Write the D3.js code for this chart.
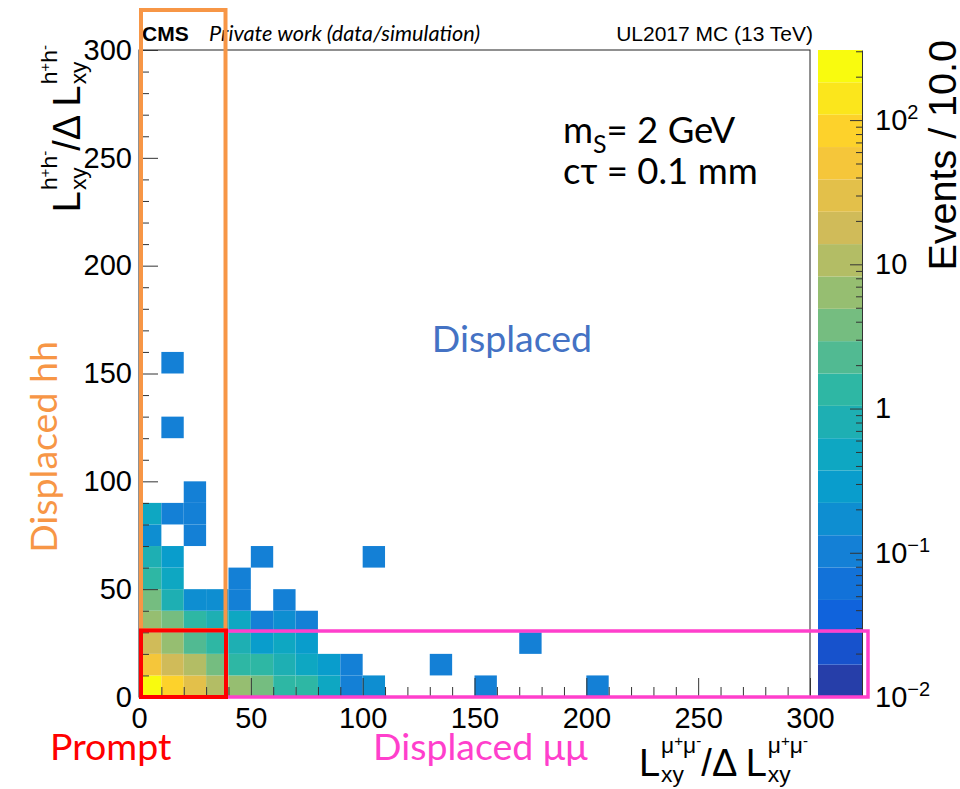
<!DOCTYPE html>
<html>
<head>
<meta charset="utf-8">
<script src="https://cdn.jsdelivr.net/npm/d3@7"></script>
<style>
  html, body { margin: 0; padding: 0; background: #fff; }
  svg { display: block; }
</style>
</head>
<body>
<svg id="chart" width="960" height="789"></svg>
<script>
// ---- 2D histogram: lower bin edges (bin width 10) and weighted event content ----
const binWidth = 10;
const binX = [
  0, 10, 20, 30, 40, 50, 60, 70, 80, 90, 100, 150, 200,
  0, 10, 20, 30, 40, 50, 60, 70, 80, 90, 130,
  0, 10, 20, 30, 40, 50, 60, 70, 170,
  0, 10, 20, 30, 40, 50, 60, 70,
  0, 10, 20, 30, 40, 60,
  0, 10, 40,
  0, 10, 50, 100,
  0, 20,
  0, 10, 20,
  20,
  10,
  10
];
const binY = [
  0, 0, 0, 0, 0, 0, 0, 0, 0, 0, 0, 0, 0,
  10, 10, 10, 10, 10, 10, 10, 10, 10, 10, 10,
  20, 20, 20, 20, 20, 20, 20, 20, 20,
  30, 30, 30, 30, 30, 30, 30, 30,
  40, 40, 40, 40, 40, 40,
  50, 50, 50,
  60, 60, 60, 60,
  70, 70,
  80, 80, 80,
  90,
  120,
  150
];
const binZ = [
  250, 85, 30, 10.5, 6.3, 3.8, 1.3, 1.3, 0.5, 0.1, 0.17, 0.1, 0.1,
  50, 18, 10.5, 3.8, 1.3, 1.3, 0.8, 0.5, 0.29, 0.1, 0.1,
  18, 6.3, 2.2, 1.3, 0.8, 0.29, 0.5, 0.29, 0.1,
  6.3, 3.8, 1.3, 0.8, 0.5, 0.1, 0.17, 0.1,
  3.8, 0.8, 0.17, 0.17, 0.1, 0.1,
  1.3, 0.5, 0.1,
  0.8, 0.29, 0.1, 0.1,
  0.17, 0.1,
  0.5, 0.1, 0.1,
  0.1,
  0.1,
  0.1
];

// ---- axis ticks ----
const xMajorTicks = [0, 50, 100, 150, 200, 250, 300];
const yMajorTicks = [0, 50, 100, 150, 200, 250, 300];
const zMajorTicks = [0.01, 0.1, 1, 10, 100];
const zTickBase = ["10", "10", "1", "10", "10"];
const zTickExp = ["\u22122", "\u22121", "", "", "2"];

// ---- "bird" colour palette stops ----
const birdStops = [0.0, 0.125, 0.25, 0.375, 0.5, 0.625, 0.75, 0.875, 1.0];
const birdR = [0.2082, 0.0592, 0.0780, 0.0232, 0.1802, 0.5301, 0.8186, 0.9956, 0.9764];
const birdG = [0.1664, 0.3599, 0.5041, 0.6419, 0.7178, 0.7492, 0.7328, 0.7862, 0.9832];
const birdB = [0.5293, 0.8684, 0.8385, 0.7914, 0.6425, 0.4662, 0.3499, 0.1968, 0.0539];

// ---- layout ----
const X0 = 139, X1 = 810, Y0 = 697, Y1 = 50;
const CB0 = 818, CB1 = 862;
const AXIS_FONT = "'Liberation Sans', Arial, Helvetica, sans-serif";
const LABEL_FONT = "Lato, 'Open Sans', sans-serif";

const svg = d3.select("#chart");
svg.append("rect").attr("width", 960).attr("height", 789).attr("fill", "#fff");

const x = d3.scaleLinear().domain([0, 300]).range([X0, X1]);
const y = d3.scaleLinear().domain([0, 300]).range([Y0, Y1]);

// log colour axis: 20 equal contour bands
const zMin = 0.01, nBands = 20, bandDecades = 0.2243;
const zMax = zMin * Math.pow(10, nBands * bandDecades);
const zBand = d3.scaleLog().domain([zMin, zMax]).range([0, nBands]);
const zPos = d3.scaleLog().domain([zMin, zMax]).range([Y0, Y1]);
const palette = d3.scaleLinear()
  .domain(birdStops)
  .range(birdStops.map((s, i) => d3.rgb(birdR[i] * 255, birdG[i] * 255, birdB[i] * 255)))
  .interpolate(d3.interpolateRgb)
  .clamp(true);
const bandOf = v => Math.max(0, Math.min(nBands - 1, Math.floor(zBand(v))));
const bandColor = k => palette((k + 0.99) / nBands);

// ---- histogram cells ----
const cells = binX.map((bx, i) => ({ x: bx, y: binY[i], z: binZ[i] }));
svg.append("g").selectAll("rect").data(cells).join("rect")
  .attr("x", d => x(d.x))
  .attr("y", d => y(d.y + binWidth))
  .attr("width", d => x(d.x + binWidth) - x(d.x))
  .attr("height", d => y(d.y) - y(d.y + binWidth))
  .attr("fill", d => bandColor(bandOf(d.z)));

// ---- frame ----
svg.append("rect")
  .attr("x", X0).attr("y", Y1).attr("width", X1 - X0).attr("height", Y0 - Y1)
  .attr("fill", "none").attr("stroke", "#222").attr("stroke-width", 1);

function styleAxis(g, size) {
  g.selectAll("line").attr("stroke", "#333").attr("stroke-width", 1);
  g.selectAll(".domain").attr("stroke", "#333").attr("stroke-width", 1);
  g.selectAll("text").attr("font-family", AXIS_FONT).attr("font-size", size).attr("fill", "#000");
}

// x axis (ticks point into the frame)
const xMinor = d3.range(0, 301, 10).filter(v => v % 50 !== 0);
const gxMinor = svg.append("g").attr("transform", `translate(0,${Y0})`)
  .call(d3.axisBottom(x).tickValues(xMinor).tickSize(-10).tickSizeOuter(0).tickFormat(""));
gxMinor.select(".domain").remove();
styleAxis(gxMinor, 29);
const gx = svg.append("g").attr("transform", `translate(0,${Y0})`)
  .call(d3.axisBottom(x).tickValues(xMajorTicks).tickSize(-19).tickSizeOuter(0).tickPadding(10).tickFormat(d3.format("d")));
styleAxis(gx, 29);

// y axis
const yMinor = d3.range(0, 301, 10).filter(v => v % 50 !== 0);
const gyMinor = svg.append("g").attr("transform", `translate(${X0},0)`)
  .call(d3.axisLeft(y).tickValues(yMinor).tickSize(-10).tickSizeOuter(0).tickFormat(""));
gyMinor.select(".domain").remove();
styleAxis(gyMinor, 29);
const gy = svg.append("g").attr("transform", `translate(${X0},0)`)
  .call(d3.axisLeft(y).tickValues(yMajorTicks).tickSize(-19).tickSizeOuter(0).tickPadding(7).tickFormat(d3.format("d")));
styleAxis(gy, 29);

// ---- colour bar ----
const bandIdx = d3.range(nBands);
svg.append("g").selectAll("rect").data(bandIdx).join("rect")
  .attr("x", CB0)
  .attr("y", k => zPos(zBand.invert(k + 1)))
  .attr("width", CB1 - CB0)
  .attr("height", k => zPos(zBand.invert(k)) - zPos(zBand.invert(k + 1)))
  .attr("fill", k => bandColor(k));

const zMinor = [];
[0.01, 0.1, 1, 10, 100].forEach(dec => {
  for (let m = 2; m <= 9; m++) { const v = dec * m; if (v <= zMax) zMinor.push(v); }
});
const gzMinor = svg.append("g").attr("transform", `translate(${CB1},0)`)
  .call(d3.axisRight(zPos).tickValues(zMinor).tickSize(-6).tickSizeOuter(0).tickFormat(""));
gzMinor.select(".domain").remove();
styleAxis(gzMinor, 29);
const gz = svg.append("g").attr("transform", `translate(${CB1},0)`)
  .call(d3.axisRight(zPos).tickValues(zMajorTicks).tickSize(-12).tickSizeOuter(0).tickPadding(13)
    .tickFormat((d, i) => zTickBase[i]));
styleAxis(gz, 29);
gz.selectAll(".tick text").each(function (d, i) {
  if (zTickExp[i]) {
    d3.select(this).append("tspan")
      .attr("font-size", 20).attr("dy", "-0.55em").text(zTickExp[i]);
  }
});

// ---- composite title  L^{a+a-}_{xy} / Δ L^{a+a-}_{xy} ----
function lxyTitle(g, size, particle) {
  let cx = 0;
  function lWithScripts() {
    const L = g.append("text").attr("x", cx).attr("y", 0)
      .attr("font-family", AXIS_FONT).attr("font-size", size).text("L");
    cx += L.node().getComputedTextLength() + 1;
    const sup = g.append("text").attr("x", cx).attr("y", -0.6 * size)
      .attr("font-family", AXIS_FONT).attr("font-size", 0.6 * size);
    sup.append("tspan").text(particle);
    sup.append("tspan").attr("font-size", 0.4 * size).attr("dy", -0.2 * size).text("+");
    sup.append("tspan").attr("dy", 0.2 * size).text(particle);
    sup.append("tspan").attr("font-size", 0.4 * size).attr("dy", -0.2 * size).text("-");
    const sub = g.append("text").attr("x", cx).attr("y", 0.17 * size)
      .attr("font-family", AXIS_FONT).attr("font-size", 0.6 * size).text("xy");
    cx += Math.max(sup.node().getBBox().width, sub.node().getComputedTextLength());
  }
  lWithScripts();
  const mid = g.append("text").attr("x", cx).attr("y", 0)
    .attr("font-family", AXIS_FONT).attr("font-size", size).text("/\u0394 ");
  cx += mid.node().getComputedTextLength() + 0.22 * size;
  lWithScripts();
  return cx;
}

const TITLE = 38;
const xt = svg.append("g");
const xtw = lxyTitle(xt, TITLE, "\u03bc");
xt.attr("transform", `translate(${808 - xtw},776)`);

const yt = svg.append("g");
const ytw = lxyTitle(yt, TITLE, "h");
yt.attr("transform", `translate(80,${45 + ytw}) rotate(-90)`);

// colour axis title
svg.append("text")
  .attr("transform", "translate(956,40) rotate(-90)")
  .attr("text-anchor", "end")
  .attr("font-family", AXIS_FONT).attr("font-size", 39.5)
  .text("Events / 10.0");

// ---- header ----
svg.append("text").attr("x", 142).attr("y", 41)
  .attr("font-family", AXIS_FONT).attr("font-weight", "bold").attr("font-size", 21).text("CMS");
svg.append("text").attr("x", 209).attr("y", 41)
  .attr("font-family", LABEL_FONT).attr("font-style", "italic").attr("font-size", 21.7)
  .text("Private work (data/simulation)");
svg.append("text").attr("x", 813).attr("y", 41).attr("text-anchor", "end")
  .attr("font-family", AXIS_FONT).attr("font-size", 21).text("UL2017 MC (13 TeV)");

// ---- signal point ----
const mS = svg.append("text").attr("x", 563).attr("y", 143)
  .attr("font-family", LABEL_FONT).attr("font-size", 36.5).attr("fill", "#000");
mS.append("tspan").text("m");
mS.append("tspan").attr("font-size", 25).attr("dy", 10).text("S");
mS.append("tspan").attr("dy", -10).text("= 2 GeV");
svg.append("text").attr("x", 563).attr("y", 184)
  .attr("font-family", LABEL_FONT).attr("font-size", 36.5).attr("fill", "#000")
  .text("c\u03c4 = 0.1 mm");

// ---- category regions ----
svg.append("rect").attr("x", 141).attr("y", 10).attr("width", 84.5).attr("height", 620)
  .attr("fill", "none").attr("stroke", "#f79646").attr("stroke-width", 4);
svg.append("rect").attr("x", 226).attr("y", 631).attr("width", 642).attr("height", 66)
  .attr("fill", "none").attr("stroke", "#ff3fcc").attr("stroke-width", 3.5);
svg.append("rect").attr("x", 141).attr("y", 630.5).attr("width", 85).attr("height", 66.5)
  .attr("fill", "none").attr("stroke", "#ff0000").attr("stroke-width", 4);

svg.append("text").attr("x", 512).attr("y", 352).attr("text-anchor", "middle")
  .attr("font-family", LABEL_FONT).attr("font-size", 37.5).attr("fill", "#4472c4").text("Displaced");
svg.append("text").attr("transform", "translate(57,447) rotate(-90)").attr("text-anchor", "middle")
  .attr("font-family", LABEL_FONT).attr("font-size", 37.5).attr("fill", "#f79646").text("Displaced hh");
svg.append("text").attr("x", 50).attr("y", 760)
  .attr("font-family", LABEL_FONT).attr("font-size", 37.5).attr("fill", "#ff0000").text("Prompt");
svg.append("text").attr("x", 373).attr("y", 760)
  .attr("font-family", LABEL_FONT).attr("font-size", 37.5).attr("fill", "#ff3fcc").text("Displaced \u03bc\u03bc");
</script>
</body>
</html>
